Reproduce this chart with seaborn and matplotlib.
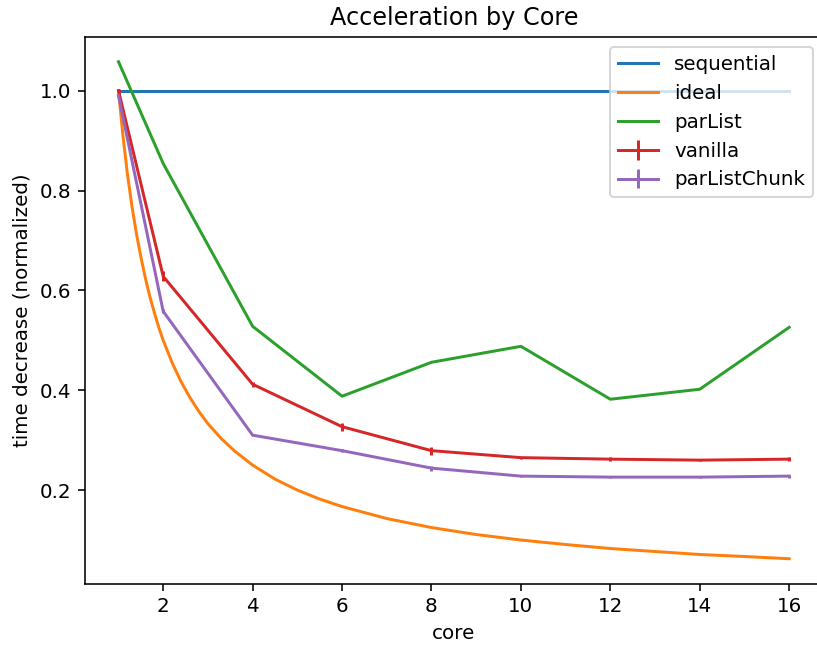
import matplotlib
matplotlib.use("Agg")
import matplotlib.pyplot as plt
import pandas as pd
import seaborn as sns

cores = [1, 2, 4, 6, 8, 10, 12, 14, 16]
sequential = [1.0] * len(cores)
par_list = [1.058, 0.854, 0.528, 0.388, 0.456, 0.488, 0.382, 0.402, 0.526]
vanilla = [1.0, 0.628, 0.412, 0.327, 0.279, 0.265, 0.262, 0.260, 0.262]
vanilla_err = [0.004, 0.010, 0.005, 0.008, 0.008, 0.002, 0.004, 0.002, 0.004]
par_list_chunk = [0.99, 0.558, 0.310, 0.279, 0.244, 0.228, 0.226, 0.226, 0.228]
par_list_chunk_err = [0.008, 0.004, 0.002, 0.003, 0.005, 0.002, 0.002, 0.002, 0.003]

ideal_cores = [1, 1.1, 1.2, 1.3, 1.4, 1.5, 1.6, 1.7, 1.8, 1.9, 2, 2.2, 2.4,
               2.6, 2.8, 3, 3.3, 3.6, 4, 4.5, 5, 5.5, 6, 7, 8, 9, 10, 11, 12,
               13, 14, 15, 16]
ideal = [1.0, 0.909, 0.833, 0.769, 0.714, 0.667, 0.625, 0.588, 0.556, 0.526,
         0.5, 0.455, 0.417, 0.385, 0.357, 0.333, 0.303, 0.278, 0.25, 0.222,
         0.2, 0.182, 0.167, 0.143, 0.125, 0.111, 0.1, 0.091, 0.083, 0.077,
         0.071, 0.067, 0.0625]

# original looks like it was rendered at ~143 dpi and cut off on the right
DPI = 143
fig = plt.figure(figsize=(817 / DPI, 647 / DPI), dpi=DPI)
ax = fig.add_axes([0.104, 0.098, 0.903, 0.845])

sns.lineplot(x=cores, y=sequential, ax=ax, color="C0", label="sequential")
sns.lineplot(x=ideal_cores, y=ideal, ax=ax, color="C1", label="ideal")
sns.lineplot(x=cores, y=par_list, ax=ax, color="C2", label="parList")
ax.errorbar(cores, vanilla, yerr=vanilla_err, color="C3", label="vanilla")
ax.errorbar(cores, par_list_chunk, yerr=par_list_chunk_err, color="C4",
            label="parListChunk")

ax.set_title("Acceleration by Core")
ax.set_xlabel("core")
ax.set_ylabel("time decrease (normalized)")
ax.set_xticks([2, 4, 6, 8, 10, 12, 14, 16])
ax.legend(loc="upper right")

fig.savefig("out.png", dpi=DPI)
